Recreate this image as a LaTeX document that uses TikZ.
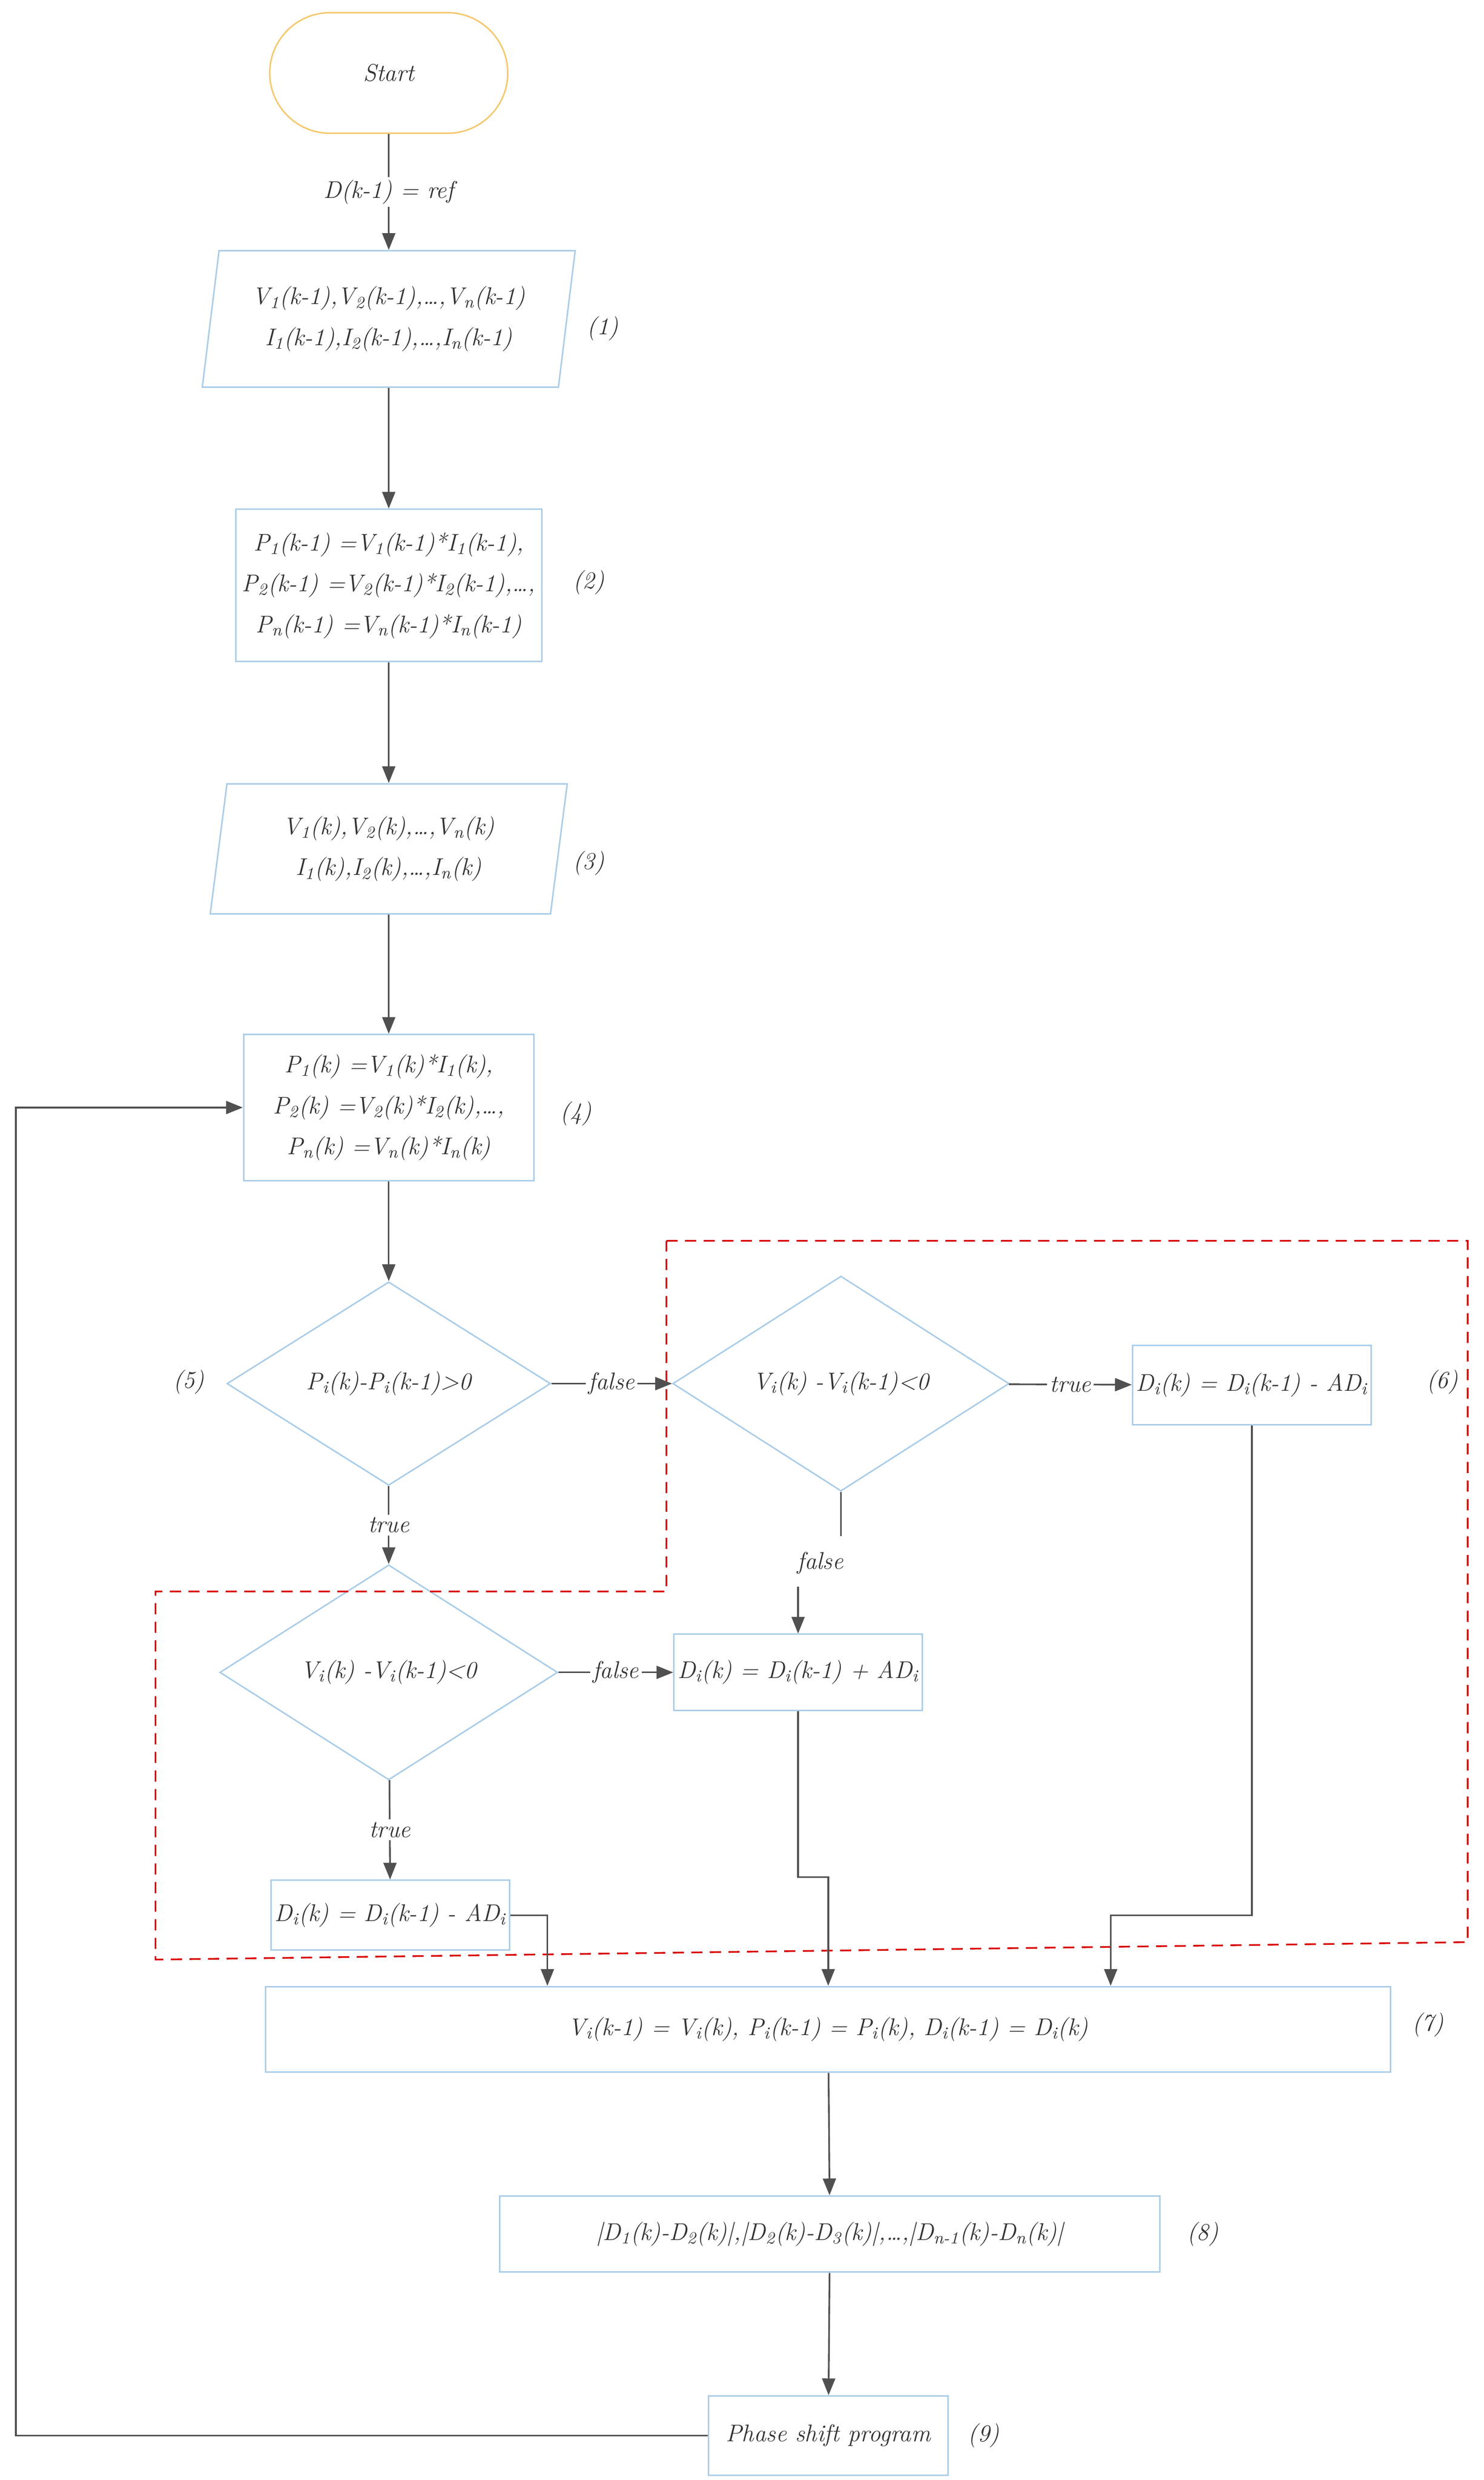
\documentclass[tikz,border=0pt]{standalone}
\usepackage{tikz}
\usetikzlibrary{shapes.geometric,arrows.meta}

\definecolor{boxblue}{RGB}{170,205,232}
\definecolor{startor}{RGB}{245,200,110}
\definecolor{arrgray}{RGB}{80,80,80}

\tikzset{
  base/.style={draw=boxblue, line width=0.8pt, align=center, font=\fontsize{13}{22}\selectfont\itshape, text=black!80, inner sep=2pt},
  box/.style={base, rectangle},
  io/.style={base, trapezium, trapezium left angle=77, trapezium right angle=103, trapezium stretches body},
  cond/.style={base, diamond},
  term/.style={base, draw=startor, rounded corners=38*0.03cm},
  flow/.style={draw=arrgray, line width=0.9pt, -{Triangle[length=9pt,width=7pt]}},
  wire/.style={draw=arrgray, line width=0.9pt},
  lbl/.style={fill=white, inner sep=1.5pt, font=\fontsize{13}{16}\selectfont\itshape, text=black!80},
  num/.style={font=\fontsize{13}{16}\selectfont\itshape, text=black!80}
}
\newcommand{\sub}[1]{\textsubscript{#1}}

\begin{document}
\begin{tikzpicture}[x=0.03cm,y=-0.03cm]
  \useasboundingbox (0,0) rectangle (935,1563);

  % blocks
  \node[term, minimum width=150*0.03cm, minimum height=76*0.03cm] (start) at (245,46) {Start};
  \node[io, minimum width=235*0.03cm, minimum height=86*0.03cm] (in1) at (245,201)
    {V\sub{1}(k-1),V\sub{2}(k-1),\dots,V\sub{n}(k-1)\\ I\sub{1}(k-1),I\sub{2}(k-1),\dots,I\sub{n}(k-1)};
  \node[box, minimum width=193*0.03cm, minimum height=96*0.03cm] (pw1) at (245,369)
    {P\sub{1}(k-1) =V\sub{1}(k-1)*I\sub{1}(k-1),\\ P\sub{2}(k-1) =V\sub{2}(k-1)*I\sub{2}(k-1),\dots,\\ P\sub{n}(k-1) =V\sub{n}(k-1)*I\sub{n}(k-1)};
  \node[io, minimum width=225*0.03cm, minimum height=82*0.03cm] (in2) at (245,535)
    {V\sub{1}(k),V\sub{2}(k),\dots,V\sub{n}(k)\\ I\sub{1}(k),I\sub{2}(k),\dots,I\sub{n}(k)};
  \node[box, minimum width=183*0.03cm, minimum height=92*0.03cm] (pw2) at (245,698)
    {P\sub{1}(k) =V\sub{1}(k)*I\sub{1}(k),\\ P\sub{2}(k) =V\sub{2}(k)*I\sub{2}(k),\dots,\\ P\sub{n}(k) =V\sub{n}(k)*I\sub{n}(k)};
  \node[cond, minimum width=204*0.03cm, minimum height=100*0.03cm] (dp) at (245,872) {P\sub{i}(k)-P\sub{i}(k-1)>0};
  \node[cond, minimum width=212*0.03cm, minimum height=106*0.03cm] (dvr) at (530,872) {V\sub{i}(k) -V\sub{i}(k-1)<0};
  \node[box, minimum width=150*0.03cm, minimum height=50*0.03cm] (dec1) at (789,873) {D\sub{i}(k) = D\sub{i}(k-1) - AD\sub{i}};
  \node[cond, minimum width=213*0.03cm, minimum height=102*0.03cm] (dvl) at (245,1054) {V\sub{i}(k) -V\sub{i}(k-1)<0};
  \node[box, minimum width=151*0.03cm, minimum height=48*0.03cm] (inc) at (503,1054) {D\sub{i}(k) = D\sub{i}(k-1) + AD\sub{i}};
  \node[box, minimum width=150*0.03cm, minimum height=44*0.03cm] (dec2) at (246,1207) {D\sub{i}(k) = D\sub{i}(k-1) - AD\sub{i}};
  \node[box, minimum width=709*0.03cm, minimum height=54*0.03cm] (upd) at (522,1279)
    {V\sub{i}(k-1) = V\sub{i}(k), P\sub{i}(k-1) = P\sub{i}(k), D\sub{i}(k-1) = D\sub{i}(k)};
  \node[box, minimum width=416*0.03cm, minimum height=48*0.03cm] (diff) at (523,1408)
    {|D\sub{1}(k)-D\sub{2}(k)|,|D\sub{2}(k)-D\sub{3}(k)|,\dots,|D\sub{n-1}(k)-D\sub{n}(k)|};
  \node[box, minimum width=151*0.03cm, minimum height=50*0.03cm] (phs) at (522,1535) {Phase shift program};

  % step numbers
  \node[num] (n1) at (380,207) {(1)};
  \node[num] (n2) at (371,367) {(2)};
  \node[num] (n3) at (371,544) {(3)};
  \node[num] (n4) at (363,702) {(4)};
  \node[num] (n5) at (119,871) {(5)};
  \node[num] (n6) at (909,871) {(6)};
  \node[num] (n7) at (900,1276) {(7)};
  \node[num] (n8) at (758,1408) {(8)};
  \node[num] (n9) at (620,1535) {(9)};

  % dashed region
  \draw[red!85!black, dashed, line width=0.9pt, dash pattern=on 6pt off 4pt]
    (420,782) -- (925,782) -- (925,1224) -- (98,1235) -- (98,1003) -- (420,1003) -- cycle;

  % connectors
  \draw[flow] (start) -- node[lbl] {D(k-1) = ref} (in1);
  \draw[flow] (in1) -- (pw1);
  \draw[flow] (pw1) -- (in2);
  \draw[flow] (in2) -- (pw2);
  \draw[flow] (pw2) -- (dp);
  \draw[flow] (dp) -- node[lbl] {false} (dvr);
  \draw[flow] (dvr) -- node[lbl] {true} (dec1);
  \draw[flow] (dp) -- node[lbl] {true} (dvl);
  \draw[flow] (dvl) -- node[lbl] {false} (inc);
  \draw[flow] (dvl) -- node[lbl] {true} (dec2);

  \coordinate (fa) at (530,968);
  \node[lbl] (fl) at (517,985) {false};
  \coordinate (fb) at (503,1000);
  \draw[wire] (dvr.south) -- (fa);
  \draw[flow] (fb) -- (inc.north -| fb);

  \draw[flow] (dec2.east) -| (upd.north -| 345,0);
  \draw[flow] (inc.south) -- (503,1183) -| (upd.north);
  \draw[flow] (dec1.south) |- (700,1207) -- (upd.north -| 700,0);

  \draw[flow] (upd) -- (diff);
  \draw[flow] (diff) -- (phs);

  \coordinate (lp) at (10,1535);
  \draw[flow] (phs.west) -- (lp) |- (pw2.west);
\end{tikzpicture}
\end{document}
